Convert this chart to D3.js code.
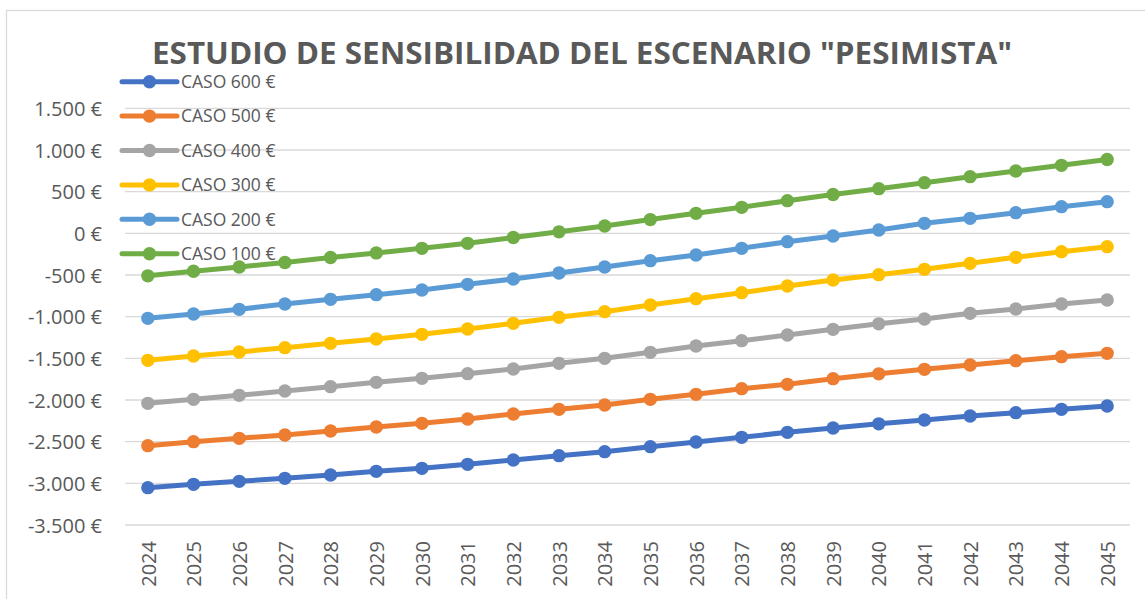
<!DOCTYPE html>
<html>
<head>
<meta charset="utf-8">
<script src="https://cdn.jsdelivr.net/npm/d3@7"></script>
<style>
  html, body { margin: 0; padding: 0; background: #fff; }
  svg { display: block; font-family: "Open Sans", sans-serif; }
</style>
</head>
<body>
<svg id="chart" width="1145" height="599"></svg>
<script>
// Years on the category axis
const years = [2024, 2025, 2026, 2027, 2028, 2029, 2030, 2031, 2032, 2033, 2034,
               2035, 2036, 2037, 2038, 2039, 2040, 2041, 2042, 2043, 2044, 2045];

// Accumulated balance per case (€)
const caso600 = [-3052, -3012, -2976, -2940, -2900, -2856, -2820, -2772, -2720, -2668, -2620,
                 -2560, -2504, -2448, -2388, -2336, -2286, -2240, -2192, -2152, -2112, -2072];
const caso500 = [-2548, -2500, -2460, -2420, -2372, -2324, -2280, -2228, -2168, -2112, -2060,
                 -1992, -1932, -1864, -1812, -1744, -1686, -1632, -1580, -1528, -1480, -1440];
const caso400 = [-2040, -1992, -1944, -1892, -1840, -1788, -1740, -1684, -1628, -1560, -1500,
                 -1428, -1352, -1288, -1220, -1152, -1086, -1028, -960, -908, -848, -800];
const caso300 = [-1524, -1472, -1424, -1372, -1320, -1268, -1212, -1148, -1080, -1008, -940,
                 -860, -784, -712, -632, -560, -496, -432, -360, -288, -220, -160];
const caso200 = [-1020, -968, -912, -848, -792, -736, -680, -612, -548, -476, -404,
                 -328, -260, -180, -100, -32, 40, 120, 180, 248, 320, 380];
const caso100 = [-510, -455, -404, -350, -290, -235, -180, -120, -50, 18, 88,
                 165, 240, 312, 392, 466, 536, 608, 680, 748, 816, 886];

const seriesNames = ["CASO 600 €", "CASO 500 €", "CASO 400 €", "CASO 300 €", "CASO 200 €", "CASO 100 €"];
const seriesValues = [caso600, caso500, caso400, caso300, caso200, caso100];
const seriesColors = ["#4472C4", "#ED7D31", "#A5A5A5", "#FFC000", "#5B9BD5", "#70AD47"];

// Value axis ticks
const yTicks = [-3500, -3000, -2500, -2000, -1500, -1000, -500, 0, 500, 1000, 1500];

const titleText = 'ESTUDIO DE SENSIBILIDAD DEL ESCENARIO "PESIMISTA"';

const svg = d3.select("#chart");
const textColor = "#595959";
const gridColor = "#D9D9D9";

// Outer chart frame
svg.append("rect")
  .attr("x", 6.5).attr("y", 10.5)
  .attr("width", 1200).attr("height", 700)
  .attr("fill", "none").attr("stroke", gridColor).attr("stroke-width", 1.3);

const plot = { left: 125, right: 1130, top: 108.33, bottom: 525 };

const x = d3.scalePoint()
  .domain(years)
  .range([plot.left, plot.right])
  .padding(0.5);

const y = d3.scaleLinear()
  .domain([d3.min(yTicks), d3.max(yTicks)])
  .range([plot.bottom, plot.top]);

const euro = d3.formatLocale({
  decimal: ",", thousands: ".", grouping: [3], currency: ["", " €"], minus: "-"
}).format("$,.0f");

// Horizontal gridlines
svg.append("g")
  .selectAll("line")
  .data(yTicks)
  .join("line")
  .attr("x1", plot.left).attr("x2", plot.right)
  .attr("y1", d => y(d)).attr("y2", d => y(d))
  .attr("stroke", gridColor).attr("stroke-width", 1.4);

// Value axis labels
const yAxis = d3.axisLeft(y).tickValues(yTicks).tickFormat(euro).tickSize(0).tickPadding(0);
const gy = svg.append("g").attr("transform", "translate(102,0)").call(yAxis);
gy.select(".domain").remove();
gy.selectAll("text")
  .attr("fill", textColor)
  .style("font-size", "20px")
  .style("font-family", '"Open Sans", sans-serif')
  .attr("dy", "0.36em");

// Category axis labels (rotated)
const xAxis = d3.axisBottom(x).tickSize(0).tickPadding(0);
const gx = svg.append("g").attr("transform", "translate(0,541)").call(xAxis);
gx.select(".domain").remove();
gx.selectAll("text")
  .attr("fill", textColor)
  .style("font-size", "20px")
  .style("font-family", '"Open Sans", sans-serif')
  .attr("text-anchor", "end")
  .attr("transform", "rotate(-90)")
  .attr("x", 0).attr("y", 0)
  .attr("dy", "0.36em");

// Series lines and markers
const line = d3.line()
  .x((d, i) => x(years[i]))
  .y(d => y(d));

const seriesG = svg.append("g");
seriesValues.forEach((vals, k) => {
  const g = seriesG.append("g");
  g.append("path")
    .datum(vals)
    .attr("d", line)
    .attr("fill", "none")
    .attr("stroke", seriesColors[k])
    .attr("stroke-width", 5)
    .attr("stroke-linejoin", "round");
  g.selectAll("circle")
    .data(vals)
    .join("circle")
    .attr("cx", (d, i) => x(years[i]))
    .attr("cy", d => y(d))
    .attr("r", 6.7)
    .attr("fill", seriesColors[k]);
});

// Legend
const legend = svg.append("g");
seriesNames.forEach((name, k) => {
  const cy = 81.7 + k * 34.4;
  legend.append("line")
    .attr("x1", 122).attr("x2", 177)
    .attr("y1", cy).attr("y2", cy)
    .attr("stroke", seriesColors[k]).attr("stroke-width", 5)
    .attr("stroke-linecap", "round");
  legend.append("circle")
    .attr("cx", 149.5).attr("cy", cy).attr("r", 6.7)
    .attr("fill", seriesColors[k]);
  legend.append("text")
    .attr("x", 181).attr("y", cy)
    .attr("dy", "0.36em")
    .attr("fill", textColor)
    .style("font-size", "17.5px")
    .text(name);
});

// Title
const title = svg.append("text")
  .attr("x", 582).attr("y", 64)
  .attr("text-anchor", "middle")
  .attr("fill", textColor)
  .style("font-size", "30px")
  .style("font-weight", "bold")
  .text(titleText);
const tw = title.node().getComputedTextLength();
if (Math.abs(tw - 860) > 4) {
  title.attr("textLength", 860).attr("lengthAdjust", "spacingAndGlyphs");
}
</script>
</body>
</html>
